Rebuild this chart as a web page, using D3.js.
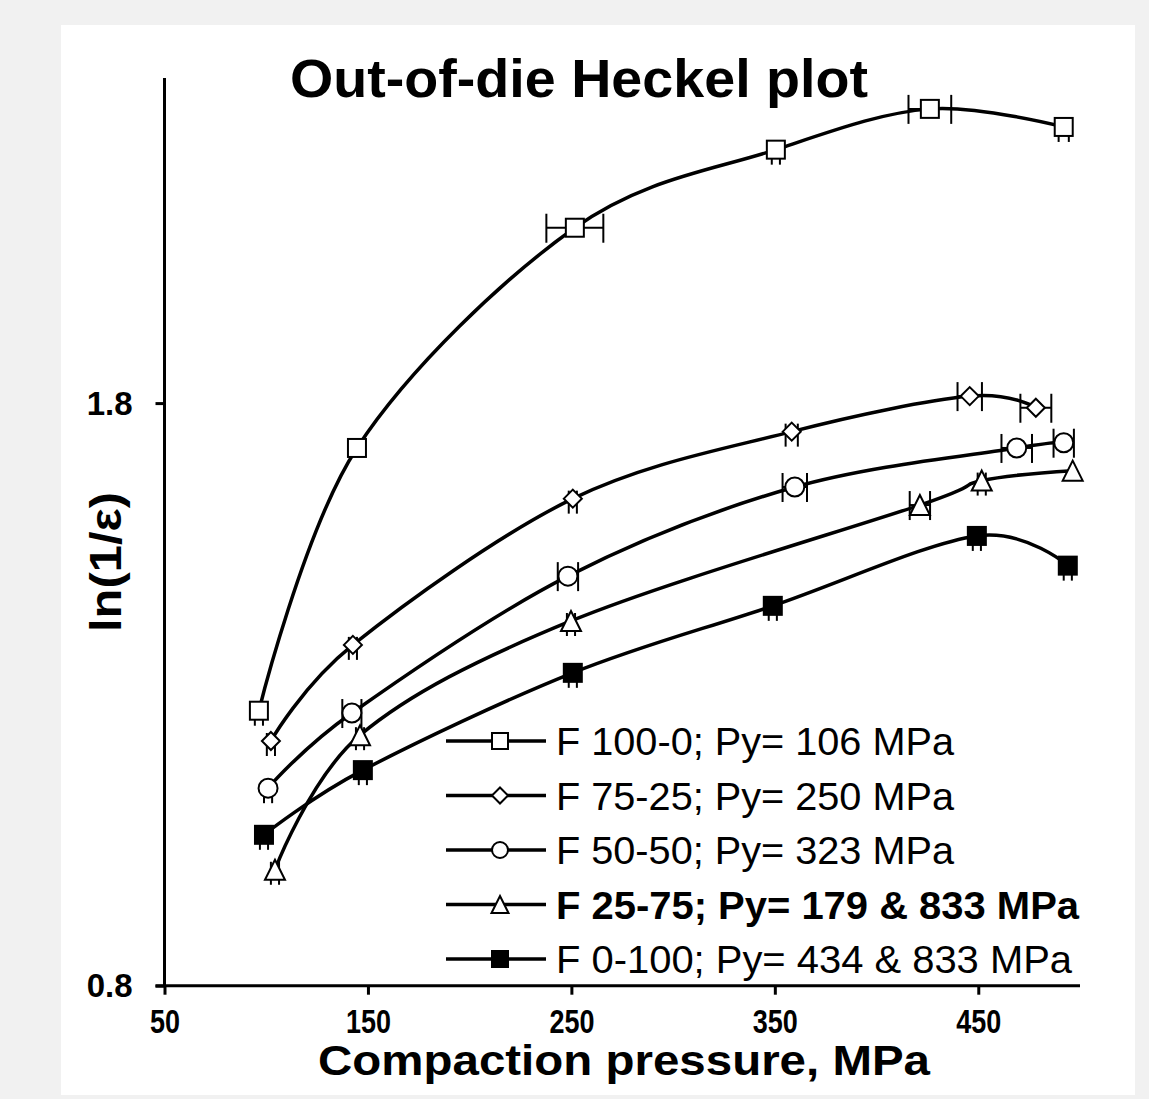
<!DOCTYPE html>
<html>
<head>
<meta charset="utf-8">
<script src="https://cdn.jsdelivr.net/npm/d3@7"></script>
<style>
  html, body { margin: 0; padding: 0; background: #f1f1f1; }
  svg { display: block; }
  text { font-family: Arial, "Liberation Sans", sans-serif; fill: #000; }
</style>
</head>
<body>
<script>
// Out-of-die Heckel data: compaction pressure (MPa) vs ln(1/ε), with pressure SD
const seriesNames = [
  "F 100-0; Py= 106 MPa",
  "F 75-25; Py= 250 MPa",
  "F 50-50; Py= 323 MPa",
  "F 25-75; Py= 179 & 833 MPa",
  "F 0-100; Py= 434 & 833 MPa"
];
const seriesSymbols = ["square", "diamond", "circle", "triangle", "filledSquare"];
const boldLegend = [false, false, false, true, false];

const pressureF100 = [96.4, 144.6, 251.7, 350.5, 426.2, 492.0];
const lnF100       = [1.272, 1.723, 2.101, 2.235, 2.305, 2.274];
const sdF100       = [2, 0, 14, 2, 10.5, 2.5];

const pressureF75 = [102.3, 142.6, 250.7, 358.3, 445.8, 478.3];
const lnF75       = [1.220, 1.385, 1.636, 1.751, 1.812, 1.792];
const sdF75       = [2, 2, 2, 3, 6, 7.6];

const pressureF50 = [100.9, 142.1, 248.3, 359.8, 468.9, 492.0];
const lnF50       = [1.139, 1.268, 1.503, 1.656, 1.723, 1.732];
const sdF50       = [2, 4.7, 5, 6, 7.5, 5];

const pressureF25 = [104.3, 146.1, 249.8, 421.3, 451.7, 496.4];
const lnF25       = [0.999, 1.230, 1.426, 1.625, 1.667, 1.684];
const sdF25       = [2, 2, 2, 5, 2, 0];

const pressureF0 = [98.9, 147.5, 250.7, 349.0, 449.3, 494.0];
const lnF0       = [1.059, 1.170, 1.337, 1.452, 1.572, 1.521];
const sdF0       = [2, 2, 2, 2, 2, 2];

const xTickValues = [50, 150, 250, 350, 450];
const yTickValues = [0.8, 1.8];
const xDomain = [50, 500];
const yDomain = [0.8, 2.358];

const titleText = "Out-of-die Heckel plot";
const xTitle = "Compaction pressure, MPa";
const yTitle = "ln(1/ε)";

const pressures = [pressureF100, pressureF75, pressureF50, pressureF25, pressureF0];
const lnValues  = [lnF100, lnF75, lnF50, lnF25, lnF0];
const sds       = [sdF100, sdF75, sdF50, sdF25, sdF0];

const series = seriesNames.map((name, i) => ({
  name, symbol: seriesSymbols[i], bold: boldLegend[i],
  points: pressures[i].map((p, j) => ({ p, v: lnValues[i][j], sd: sds[i][j] }))
}));

const W = 1149, H = 1099;
const svg = d3.select("body").append("svg").attr("width", W).attr("height", H);

// white chart panel
svg.append("rect").attr("x", 61).attr("y", 25).attr("width", 1074).attr("height", 1070).attr("fill", "#fff");

const x = d3.scaleLinear().domain(xDomain).range([164.5, 1080]);
const y = d3.scaleLinear().domain(yDomain).range([985.7, 78]);

// axes
const xAxis = svg.append("g").attr("transform", `translate(0,${y(yDomain[0])})`)
  .call(d3.axisBottom(x).tickValues(xTickValues).tickSize(9).tickFormat(d3.format("d")));
const yAxis = svg.append("g").attr("transform", `translate(${x(xDomain[0])},0)`)
  .call(d3.axisLeft(y).tickValues(yTickValues).tickSize(9).tickFormat(d3.format(".1f")));

[xAxis, yAxis].forEach(g => {
  g.select(".domain").attr("stroke", "#000").attr("stroke-width", 3);
  g.selectAll(".tick line").attr("stroke", "#000").attr("stroke-width", 3);
});
xAxis.select(".domain").attr("d", `M${x(xDomain[0]) - 9},0H${x(xDomain[1])}`);
yAxis.select(".domain").attr("d", `M0,${y(yDomain[1])}V${y(yDomain[0])}`);

xAxis.selectAll(".tick text")
  .attr("font-size", 34).attr("font-weight", "bold").attr("dy", null).attr("y", 47)
  .attr("textLength", d => String(d).length * 15)
  .attr("lengthAdjust", "spacingAndGlyphs");
yAxis.selectAll(".tick text")
  .attr("font-size", 33).attr("font-weight", "bold").attr("x", -32).attr("dy", "0.34em");

// titles
svg.append("text").attr("x", 579).attr("y", 97).attr("text-anchor", "middle")
  .attr("font-size", 54).attr("font-weight", "bold")
  .attr("textLength", 578).attr("lengthAdjust", "spacingAndGlyphs").text(titleText);
svg.append("text").attr("x", 624).attr("y", 1075).attr("text-anchor", "middle")
  .attr("font-size", 43).attr("font-weight", "bold")
  .attr("textLength", 612).attr("lengthAdjust", "spacingAndGlyphs").text(xTitle);
svg.append("text").attr("transform", "translate(121,562) rotate(-90)").attr("text-anchor", "middle")
  .attr("font-size", 45).attr("font-weight", "bold")
  .attr("textLength", 140).attr("lengthAdjust", "spacingAndGlyphs").text(yTitle);

// marker drawing helper
function drawMarker(g, symbol, size) {
  const s = size / 2;
  if (symbol === "square" || symbol === "filledSquare") {
    g.append("rect").attr("x", -s).attr("y", -s).attr("width", size).attr("height", size)
      .attr("fill", symbol === "filledSquare" ? "#000" : "#fff").attr("stroke", "#000").attr("stroke-width", 2);
  } else if (symbol === "diamond") {
    g.append("path").attr("d", `M0,${-s}L${s},0L0,${s}L${-s},0Z`)
      .attr("fill", "#fff").attr("stroke", "#000").attr("stroke-width", 2);
  } else if (symbol === "circle") {
    g.append("circle").attr("r", s).attr("fill", "#fff").attr("stroke", "#000").attr("stroke-width", 2);
  } else if (symbol === "triangle") {
    g.append("path").attr("d", `M0,${-s}L${s},${s}L${-s},${s}Z`)
      .attr("fill", "#fff").attr("stroke", "#000").attr("stroke-width", 2);
  }
}
const markerSize = { square: 18, filledSquare: 18, diamond: 18, circle: 19, triangle: 20 };

const line = d3.line().x(d => x(d.p)).y(d => y(d.v)).curve(d3.curveCardinal.tension(0));

const plot = svg.append("g");
series.forEach(s => {
  const g = plot.append("g");
  g.append("path").attr("d", line(s.points)).attr("fill", "none").attr("stroke", "#000").attr("stroke-width", 3.5);
  // horizontal SD bars on pressure
  const eb = g.selectAll(".eb").data(s.points).enter().append("g")
    .attr("transform", d => `translate(${x(d.p)},${y(d.v)})`);
  const withBar = eb.filter(d => d.sd > 0);
  const capTop = d => (d.sd > 4 ? -14 : -8);
  withBar.append("line").attr("x1", d => x(d.p - d.sd) - x(d.p)).attr("x2", d => x(d.p + d.sd) - x(d.p))
    .attr("stroke", "#000").attr("stroke-width", 2);
  withBar.append("line").attr("x1", d => x(d.p - d.sd) - x(d.p)).attr("x2", d => x(d.p - d.sd) - x(d.p))
    .attr("y1", capTop).attr("y2", 15).attr("stroke", "#000").attr("stroke-width", 2);
  withBar.append("line").attr("x1", d => x(d.p + d.sd) - x(d.p)).attr("x2", d => x(d.p + d.sd) - x(d.p))
    .attr("y1", capTop).attr("y2", 15).attr("stroke", "#000").attr("stroke-width", 2);
  eb.each(function () { drawMarker(d3.select(this), s.symbol, markerSize[s.symbol]); });
});

// legend
const legendWidths = [398, 398, 398, 523, 516];
const legend = svg.append("g");
series.forEach((s, i) => {
  const ly = 741 + i * 54.5;
  const g = legend.append("g").attr("transform", `translate(0,${ly})`);
  g.append("line").attr("x1", 446).attr("x2", 546).attr("stroke", "#000").attr("stroke-width", 3.5);
  const m = g.append("g").attr("transform", "translate(500,0)");
  drawMarker(m, s.symbol, s.symbol === "triangle" ? 17 : 16);
  g.append("text").attr("x", 556).attr("y", 14).attr("font-size", 38)
    .attr("font-weight", s.bold ? "bold" : "normal")
    .attr("textLength", legendWidths[i]).attr("lengthAdjust", "spacingAndGlyphs").text(s.name);
});
</script>
</body>
</html>
